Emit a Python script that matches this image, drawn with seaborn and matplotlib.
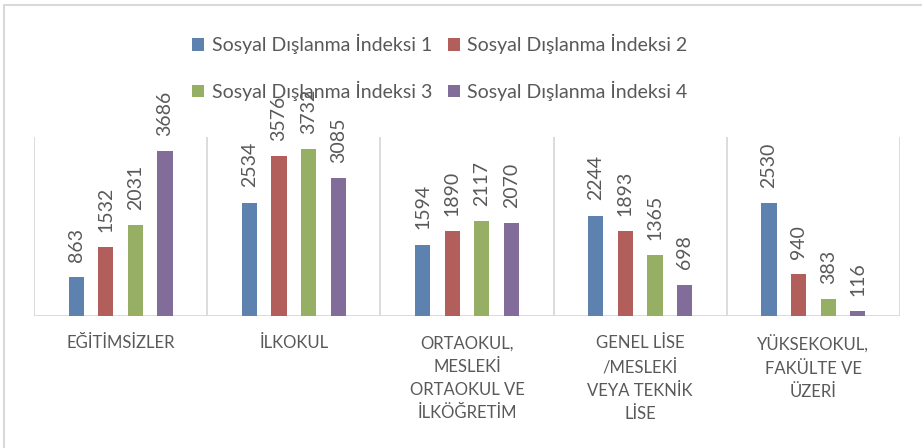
import pandas as pd
import matplotlib.pyplot as plt
import seaborn as sns
from matplotlib.lines import Line2D

# Veriler
kategoriler = [
    'EĞİTİMSİZLER',
    'İLKOKUL',
    'ORTAOKUL,\nMESLEKİ\nORTAOKUL VE\nİLKÖĞRETİM',
    'GENEL LİSE\n/MESLEKİ\nVEYA TEKNİK\nLİSE',
    'YÜKSEKOKUL,\nFAKÜLTE VE\nÜZERİ',
]
seriler = ['Sosyal Dışlanma İndeksi 1', 'Sosyal Dışlanma İndeksi 2',
           'Sosyal Dışlanma İndeksi 3', 'Sosyal Dışlanma İndeksi 4']
indeks1 = [863, 2534, 1594, 2244, 2530]
indeks2 = [1532, 3576, 1890, 1893, 940]
indeks3 = [2031, 3732, 2117, 1365, 383]
indeks4 = [3686, 3085, 2070, 698, 116]
renkler = ['#4F81BD', '#C0504D', '#9BBB59', '#8064A2']

rows = []
for seri, degerler in zip(seriler, [indeks1, indeks2, indeks3, indeks4]):
    for kat, v in zip(kategoriler, degerler):
        rows.append({'kategori': kat, 'seri': seri, 'deger': v})
df = pd.DataFrame(rows)

sns.set_style('white')
plt.rcParams['font.family'] = ['Lato', 'DejaVu Sans']
gri = '#595959'
cizgi = '#D9D9D9'

fig = plt.figure(figsize=(9.22, 4.48), dpi=100)
ax = fig.add_axes([34 / 922, 1 - 316 / 448, (900 - 34) / 922, (316 - 137) / 448])

sns.barplot(data=df, x='kategori', y='deger', hue='seri', order=kategoriler,
            hue_order=seriler, palette=renkler, width=0.684, gap=0.49,
            linewidth=0, errorbar=None, ax=ax)

# Değer etiketleri
for cont in ax.containers:
    for bar in cont:
        h = bar.get_height()
        ax.annotate(f'{int(h)}', (bar.get_x() + bar.get_width() / 2, h),
                    xytext=(0, 11), textcoords='offset points',
                    rotation=90, ha='center', va='bottom',
                    fontsize=14, color=gri, annotation_clip=False)

ax.set_xlim(-0.5, 4.5)
ax.set_ylim(0, 4000)
for i in range(6):
    ax.axvline(i - 0.5, color=cizgi, lw=1.3, zorder=0)
for s in ax.spines.values():
    s.set_visible(False)
ax.axhline(0, color=cizgi, lw=1.3, zorder=0)
ax.set_yticks([])
ax.set_xlabel('')
ax.set_ylabel('')
ax.tick_params(axis='x', length=0, pad=14, labelsize=12, labelcolor=gri)
for lbl in ax.get_xticklabels():
    lbl.set_linespacing(1.55)

handles, labels = ax.get_legend_handles_labels()
ax.get_legend().remove()
sira = [0, 2, 1, 3]
leg = fig.legend([handles[i] for i in sira], [labels[i] for i in sira],
                 loc='center', bbox_to_anchor=(440 / 922, 1 - 67.5 / 448),
                 ncol=2, frameon=False, fontsize=14, labelcolor=gri,
                 handlelength=0.6, handleheight=0.6, handletextpad=0.4,
                 columnspacing=0.8, labelspacing=1.35)

# Çerçeve
fig.add_artist(Line2D([3.5 / 922, 1], [1 - 5.5 / 448, 1 - 5.5 / 448], color=cizgi, lw=1.5))
fig.add_artist(Line2D([3.5 / 922, 3.5 / 922], [0, 1 - 5.5 / 448], color=cizgi, lw=1.5))

fig.savefig('out.png', dpi=100)
